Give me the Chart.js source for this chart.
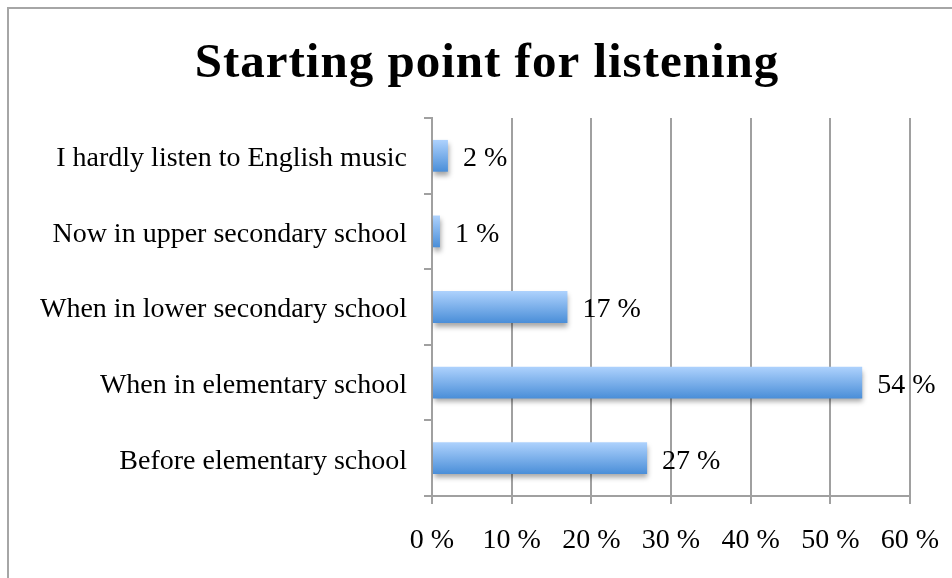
<!DOCTYPE html>
<html>
<head>
<meta charset="utf-8">
<script src="https://cdn.jsdelivr.net/npm/chart.js@4.4.1/dist/chart.umd.min.js"></script>
<style>
  body { margin: 0; background: #fff; }
  #wrap { position: relative; width: 952px; height: 578px; overflow: hidden; }
  #frame { position: absolute; left: 7px; top: 7px; width: 1000px; height: 1000px; border-left: 2px solid #a6a6a6; border-top: 2px solid #a6a6a6; }
  canvas { position: absolute; left: 0; top: 0; }
</style>
</head>
<body>
<div id="wrap">
  <div id="frame"></div>
  <canvas id="chart" width="952" height="578"></canvas>
</div>
<script>
const title = "Starting point for listening";
const categories = [
  "I hardly listen to English music",
  "Now in upper secondary school",
  "When in lower secondary school",
  "When in elementary school",
  "Before elementary school"
];
const shares = [2, 1, 17, 54, 27];
const xTicks = [0, 10, 20, 30, 40, 50, 60];

const serif = "'Liberation Serif', 'Times New Roman', serif";
const gridColor = "#a0a0a0";

// title drawn by hand so it can sit off-centre like the original
const titlePlugin = {
  id: "titlePlugin",
  afterDraw(chart) {
    const ctx = chart.ctx;
    ctx.save();
    ctx.font = "bold 49px " + serif;
    ctx.letterSpacing = "1px";
    ctx.fillStyle = "#000";
    ctx.textAlign = "center";
    ctx.textBaseline = "alphabetic";
    ctx.fillText(title, 487, 77);
    ctx.restore();
  }
};

// vertical gradient + drop shadow on every bar, value labels at the end
const barLook = {
  id: "barLook",
  beforeDatasetsDraw(chart) {
    const ctx = chart.ctx;
    chart.getDatasetMeta(0).data.forEach((bar) => {
      const top = bar.y - bar.height / 2;
      const g = ctx.createLinearGradient(0, top, 0, top + bar.height);
      g.addColorStop(0, "#aed2fd");
      g.addColorStop(1, "#4a8ed8");
      bar.options.backgroundColor = g;
    });
    ctx.save();
    ctx.shadowColor = "rgba(0,0,0,0.35)";
    ctx.shadowBlur = 5;
    ctx.shadowOffsetY = 4;
    ctx.shadowOffsetX = 1;
  },
  afterDatasetsDraw(chart) {
    const ctx = chart.ctx;
    ctx.restore();
    ctx.save();
    ctx.font = "28px " + serif;
    ctx.fillStyle = "#000";
    ctx.textAlign = "left";
    ctx.textBaseline = "middle";
    chart.getDatasetMeta(0).data.forEach((bar, i) => {
      ctx.fillText(shares[i] + " %", bar.x + 15, bar.y + 3);
    });
    ctx.restore();
  }
};

new Chart(document.getElementById("chart"), {
  type: "bar",
  data: {
    labels: categories,
    datasets: [{
      data: shares,
      // scriptable so every bar gets its own options object
      backgroundColor: () => "#6fa7e8",
      borderWidth: 0,
      barPercentage: 0.42,
      categoryPercentage: 1
    }]
  },
  options: {
    indexAxis: "y",
    responsive: false,
    animation: false,
    layout: { padding: { left: 0, right: 42, top: 118, bottom: 0 } },
    plugins: {
      legend: { display: false },
      tooltip: { enabled: false },
      title: { display: false }
    },
    scales: {
      x: {
        min: 0,
        max: 60,
        afterBuildTicks(scale) { scale.ticks = xTicks.map((v) => ({ value: v })); },
        afterFit(scale) {
          scale.height = 82;
          scale.paddingLeft = 0;
          scale.paddingRight = 0;
        },
        grid: { color: gridColor, lineWidth: 2, tickLength: 8, drawTicks: true },
        border: { color: gridColor, width: 2 },
        ticks: {
          color: "#000",
          font: { family: serif, size: 28 },
          padding: 20,
          callback: (v) => v + " %"
        }
      },
      y: {
        afterFit(scale) {
          scale.width = 432;
          scale.paddingTop = 0;
          scale.paddingBottom = 0;
        },
        grid: { color: gridColor, lineWidth: 2, tickLength: 8, drawOnChartArea: false, offset: true },
        border: { color: gridColor, width: 2 },
        ticks: {
          color: "#000",
          font: { family: serif, size: 28 },
          padding: 17,
          labelOffset: 3
        }
      }
    }
  },
  plugins: [barLook, titlePlugin]
});
</script>
</body>
</html>
